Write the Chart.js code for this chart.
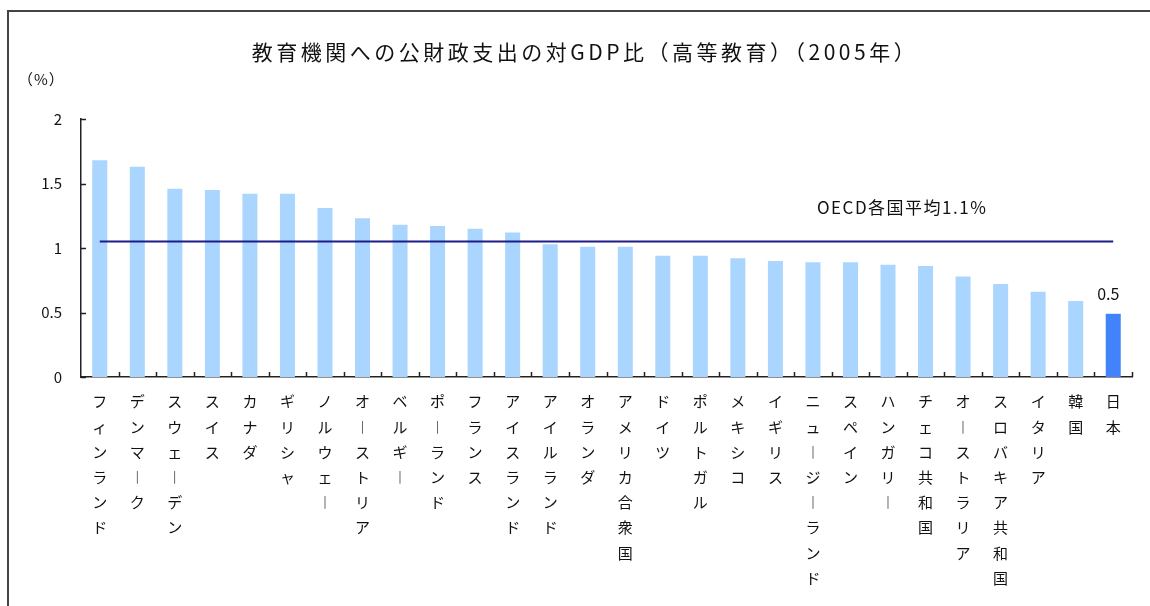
<!DOCTYPE html>
<html>
<head>
<meta charset="utf-8">
<script src="https://cdn.jsdelivr.net/npm/chart.js@4.4.1/dist/chart.umd.min.js"></script>
<style>
  html, body { margin: 0; padding: 0; background: #fff; }
  #wrap { width: 1150px; height: 606px; }
</style>
</head>
<body>
<div id="wrap"><canvas id="c" width="1150" height="606"></canvas></div>
<script>
// ---- data ----
const titleText = "教育機関への公財政支出の対GDP比（高等教育）（2005年）";
const unitLabel = "（%）";
const categories = [
  "フィンランド","デンマーク","スウェーデン","スイス","カナダ","ギリシャ","ノルウェー",
  "オーストリア","ベルギー","ポーランド","フランス","アイスランド","アイルランド","オランダ",
  "アメリカ合衆国","ドイツ","ポルトガル","メキシコ","イギリス","ニュージーランド","スペイン",
  "ハンガリー","チェコ共和国","オーストラリア","スロバキア共和国","イタリア","韓国","日本"
];
const values = [
  1.68,1.63,1.46,1.45,1.42,1.42,1.31,1.23,1.18,1.17,1.15,1.12,1.03,1.01,
  1.01,0.94,0.94,0.92,0.90,0.89,0.89,0.87,0.86,0.78,0.72,0.66,0.59,0.49
];
const oecdAverage = 1.05;
const oecdLabel = "OECD各国平均1.1%";
const highlightCategory = "日本";
const yTicks = [0, 0.5, 1, 1.5, 2];

// ---- styles ----
const barColor = "#a9d5ff";
const highlightColor = "#4282fb";
const lineColor = "#1c1c8a";
const FONT = "'Noto Sans CJK JP', 'Noto Sans', sans-serif";

const barColors = categories.map(c => c === highlightCategory ? highlightColor : barColor);
const avgLine = categories.map(() => oecdAverage);

function verticalChars(s) {
  return Array.from(s).map(ch => ch === "ー" ? "︱" : ch);
}

const decorPlugin = {
  id: "decor",
  beforeDraw(chart) {
    const ctx = chart.ctx;
    ctx.save();
    ctx.fillStyle = "#fff";
    ctx.fillRect(0, 0, chart.width, chart.height);
    // frame (top + left border)
    ctx.strokeStyle = "#444";
    ctx.lineWidth = 2;
    ctx.beginPath();
    ctx.moveTo(8, chart.height);
    ctx.lineTo(8, 11);
    ctx.lineTo(chart.width, 11);
    ctx.stroke();
    ctx.restore();
  },
  afterDraw(chart) {
    const ctx = chart.ctx;
    const xs = chart.scales.x, ys = chart.scales.y;
    const area = chart.chartArea;
    ctx.save();
    // title
    ctx.fillStyle = "#111";
    ctx.font = "21px " + FONT;
    ctx.letterSpacing = "3.5px";
    ctx.textAlign = "center";
    ctx.textBaseline = "middle";
    ctx.fillText(titleText, 585, 52);
    // unit label
    ctx.font = "15px " + FONT;
    ctx.letterSpacing = "1px";
    ctx.textAlign = "left";
    ctx.fillText(unitLabel, 18, 79);
    ctx.letterSpacing = "0px";
    // tick marks (inside)
    ctx.strokeStyle = "#222";
    ctx.lineWidth = 1.5;
    ctx.beginPath();
    yTicks.forEach(v => {
      const py = Math.round(ys.getPixelForValue(v)) + 0.5;
      ctx.moveTo(area.left, py);
      ctx.lineTo(area.left + 5, py);
    });
    const n = categories.length;
    const step = (area.right - area.left) / n;
    for (let i = 1; i <= n; i++) {
      const px = Math.round(area.left + i * step) + 0.5;
      ctx.moveTo(px, area.bottom);
      ctx.lineTo(px, area.bottom - 5);
    }
    ctx.stroke();
    // OECD label
    ctx.fillStyle = "#111";
    ctx.font = "17px " + FONT;
    ctx.letterSpacing = "1.5px";
    ctx.textAlign = "left";
    ctx.textBaseline = "middle";
    ctx.fillText(oecdLabel, xs.getPixelForValue(19) + 4, ys.getPixelForValue(oecdAverage) - 34);
    ctx.letterSpacing = "0px";
    // value label on highlighted bar
    const hi = categories.indexOf(highlightCategory);
    ctx.font = "16px " + FONT;
    ctx.textAlign = "center";
    ctx.textBaseline = "bottom";
    ctx.fillText(values[hi].toFixed(1), xs.getPixelForValue(hi) - 5, ys.getPixelForValue(values[hi]) - 12);
    ctx.restore();
  }
};

new Chart(document.getElementById("c"), {
  data: {
    labels: categories,
    datasets: [
      {
        type: "line",
        data: avgLine,
        borderColor: lineColor,
        borderWidth: 2,
        pointRadius: 0,
        fill: false,
        order: 0
      },
      {
        type: "bar",
        data: values,
        backgroundColor: barColors,
        borderWidth: 0,
        barPercentage: 0.4,
        categoryPercentage: 1.0,
        order: 1
      }
    ]
  },
  options: {
    responsive: false,
    animation: false,
    layout: { padding: { top: 119, right: 18, left: 0, bottom: 0 } },
    plugins: { legend: { display: false }, tooltip: { enabled: false }, title: { display: false } },
    scales: {
      x: {
        offset: true,
        grid: { display: false },
        border: { display: true, color: "#222", width: 1.5 },
        ticks: {
          autoSkip: false,
          maxRotation: 0,
          minRotation: 0,
          padding: 4,
          color: "#111",
          font: { family: FONT, size: 15, lineHeight: 1.68 },
          callback: function(v, i) { return verticalChars(categories[i]); }
        },
        afterFit: s => { s.height = 229; }
      },
      y: {
        min: 0,
        max: 2,
        grid: { display: false },
        border: { display: true, color: "#222", width: 1.5 },
        afterBuildTicks: s => { s.ticks = yTicks.map(v => ({ value: v })); },
        ticks: {
          padding: 11,
          color: "#111",
          font: { family: FONT, size: 15 },
          callback: v => String(v)
        },
        afterFit: s => { s.width = 81; }
      }
    }
  },
  plugins: [decorPlugin]
});
</script>
</body>
</html>
